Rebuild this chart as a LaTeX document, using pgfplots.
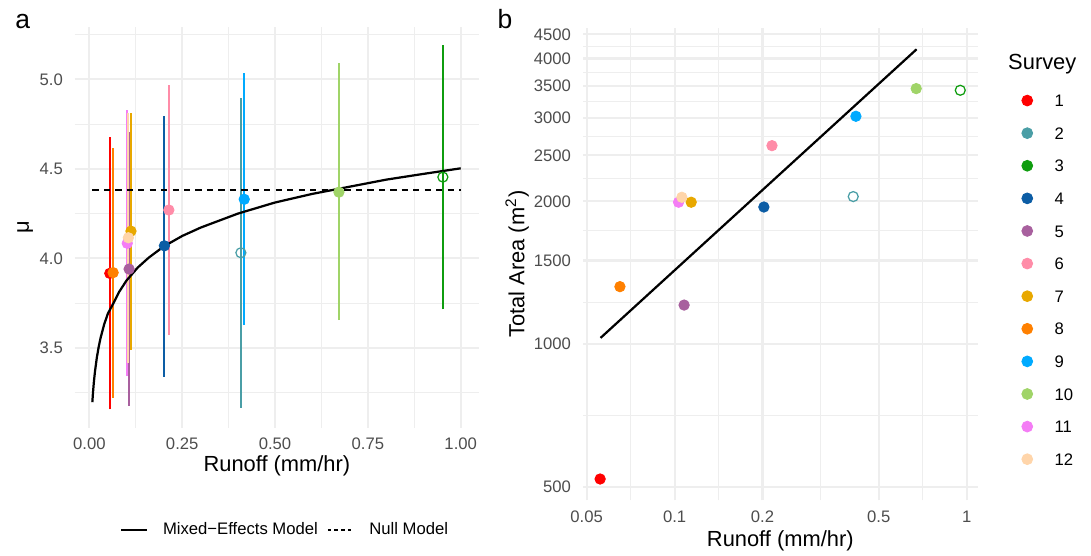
\documentclass[border=0pt]{standalone}
\usepackage{fontspec}
\setmainfont{Liberation Sans}
\usepackage{pgfplots}
\pgfplotsset{compat=1.18}

\definecolor{c1}{HTML}{FF0000}
\definecolor{c2}{HTML}{4A9EA6}
\definecolor{c3}{HTML}{0F9D0F}
\definecolor{c4}{HTML}{0C5DA5}
\definecolor{c5}{HTML}{A8609E}
\definecolor{c6}{HTML}{FF8CA8}
\definecolor{c7}{HTML}{E8A800}
\definecolor{c8}{HTML}{FF8000}
\definecolor{c9}{HTML}{00AAFF}
\definecolor{c10}{HTML}{A0D468}
\definecolor{c11}{HTML}{F47DF5}
\definecolor{c12}{HTML}{FFD5AA}
\definecolor{gridc}{HTML}{EEEEEE}
\definecolor{tickc}{HTML}{4D4D4D}

\pgfplotsset{
  ggstyle/.style={
    scale only axis,
    axis line style={draw=none},
    major tick length=0pt, minor tick length=0pt,
    tick style={draw=none},
    grid=both,
    major grid style={gridc, line width=1pt},
    minor grid style={gridc, line width=0.53pt},
    ticklabel style={font=\fontsize{8}{9.6}\selectfont, text=tickc, inner sep=0pt},
    xticklabel shift=4.95pt, yticklabel shift=5.5pt,
    /pgf/number format/assume math mode=true,
    label style={font=\fontsize{10.5}{12}\selectfont, inner sep=0pt},
    clip mode=individual,
  },
  bar/.style={line width=1pt, forget plot},
  pt/.style={only marks, mark=*, mark size=2.5pt, forget plot},
  opt/.style={only marks, mark=o, mark size=2.4pt, mark options={line width=0.6pt}, forget plot},
}

\begin{document}
\begin{tikzpicture}
\useasboundingbox (0,0) rectangle (523.68pt,266.88pt);

% ---------------- panel a ----------------
\begin{axis}[ggstyle,
  at={(35.86pt,61.63pt)}, anchor=south west,
  width=194.1pt, height=192.3pt,
  xmin=-0.0395, xmax=1.0495, ymin=3.054, ymax=5.293,
  xtick={0,0.25,0.5,0.75,1}, xticklabels={0.00,0.25,0.50,0.75,1.00},
  minor xtick={0.125,0.375,0.625,0.875},
  ytick={3.5,4,4.5,5}, yticklabels={3.5,4.0,4.5,5.0},
  minor ytick={3.25,3.75,4.25,4.75,5.25},
  xlabel={Runoff (mm/hr)}, ylabel={μ},
  xlabel style={at={(axis description cs:0.5,-0.068)}, anchor=north},
  ylabel style={at={(axis description cs:-0.102,0.5)}, anchor=south},
  legend columns=2,
  legend style={at={(axis description cs:0.5176,-0.2556)}, anchor=center,
    draw=none, fill=none, font=\fontsize{8}{9.6}\selectfont,
    nodes={inner sep=0pt},
    /tikz/every odd column/.append style={column sep=7pt},
    /tikz/every even column/.append style={column sep=4.3pt}},
  legend image code/.code={\draw[#1] (0pt,0pt) -- (12.5pt,0pt);},
]
% error bars
\addplot[c1, bar] coordinates {(0.055,3.156) (0.055,4.676)};
\addplot[c2, bar] coordinates {(0.408,3.165) (0.408,4.894)};
\addplot[c3, bar] coordinates {(0.952,3.715) (0.952,5.192)};
\addplot[c4, bar] coordinates {(0.202,3.339) (0.202,4.795)};
\addplot[c5, bar] coordinates {(0.107,3.175) (0.107,4.705)};
\addplot[c6, bar] coordinates {(0.214,3.571) (0.214,4.968)};
\addplot[c7, bar] coordinates {(0.112,3.488) (0.112,4.813)};
\addplot[c8, bar] coordinates {(0.064,3.221) (0.064,4.615)};
\addplot[c9, bar] coordinates {(0.417,3.627) (0.417,5.034)};
\addplot[c10, bar] coordinates {(0.672,3.655) (0.672,5.089)};
\addplot[c11, bar] coordinates {(0.102,3.342) (0.102,4.828)};
\addplot[c12, bar] coordinates {(0.105,3.415) (0.105,4.815)};
% model curves
\addplot[black, line width=1.07pt, forget plot] coordinates {
 (0.008,3.196) (0.009,3.228) (0.010,3.256) (0.012,3.306) (0.015,3.366)
 (0.020,3.444) (0.025,3.504) (0.030,3.554) (0.040,3.632) (0.050,3.692)
 (0.065,3.750) (0.080,3.812) (0.100,3.876) (0.130,3.948) (0.160,4.004)
 (0.200,4.066) (0.250,4.125) (0.300,4.172) (0.400,4.250) (0.500,4.312)
 (0.600,4.360) (0.700,4.400) (0.800,4.440) (0.900,4.472) (1.000,4.503)};
\addplot[black, line width=1.07pt, dash pattern=on 3pt off 2.5pt, forget plot]
 coordinates {(0.008,4.38) (1.0,4.38)};
% points
\addplot[c1, pt] coordinates {(0.055,3.916)};
\addplot[c2, opt] coordinates {(0.408,4.031)};
\addplot[c3, opt] coordinates {(0.952,4.454)};
\addplot[c4, pt] coordinates {(0.202,4.070)};
\addplot[c5, pt] coordinates {(0.107,3.940)};
\addplot[c6, pt] coordinates {(0.214,4.270)};
\addplot[c7, pt] coordinates {(0.112,4.152)};
\addplot[c8, pt] coordinates {(0.064,3.920)};
\addplot[c9, pt] coordinates {(0.417,4.330)};
\addplot[c10, pt] coordinates {(0.672,4.370)};
\addplot[c11, pt] coordinates {(0.102,4.084)};
\addplot[c12, pt] coordinates {(0.105,4.115)};
% legend
\addlegendimage{black, line width=1.2pt}
\addlegendentry{Mixed−Effects Model}
\addlegendimage{black, line width=0.9pt, dash pattern=on 1.7pt off 1.5pt}
\addlegendentry{Null Model}
\end{axis}

% ---------------- panel b ----------------
\begin{axis}[ggstyle,
  at={(279.74pt,26.64pt)}, anchor=south west,
  width=189.6pt, height=226.9pt,
  xmode=log, ymode=log,
  xmin=0.0485, xmax=1.092, ymin=467.6, ymax=4645,
  xtick={0.05,0.1,0.2,0.5,1}, xticklabels={0.05,0.1,0.2,0.5,1},
  minor xtick={0.0707,0.1414,0.3162,0.7071},
  ytick={500,1000,1500,2000,2500,3000,3500,4000,4500},
  yticklabels={500,1000,1500,2000,2500,3000,3500,4000,4500},
  minor ytick={707.1,1224.7,1732.1,2236.1,2738.6,3240.4,3741.7,4242.6},
  xlabel={Runoff (mm/hr)}, ylabel={Total Area (m\textsuperscript{2})},
  xlabel style={at={(axis description cs:0.5,-0.0624)}, anchor=north},
  ylabel style={at={(axis description cs:-0.1354,0.5)}, anchor=south},
  legend cell align=left,
  legend style={at={(axis description cs:1.0946,0.8685)}, anchor=north west,
    draw=none, fill=none, font=\fontsize{8}{9.6}\selectfont,
    nodes={inner sep=0pt, text height=5.8pt, text depth=0pt},
    row sep=9.85pt,
    /tikz/every odd column/.append style={column sep=10.5pt}},
  legend image code/.code={\draw[#1] plot coordinates {(0pt,0pt)};},
]
\addplot[black, line width=1.07pt, forget plot] coordinates {(0.0558,1030) (0.674,4184)};
\addplot[c1, pt] coordinates {(0.0556,519)};
\addplot[c2, opt] coordinates {(0.409,2046)};
\addplot[c3, opt] coordinates {(0.951,3429)};
\addplot[c4, pt] coordinates {(0.2022,1945)};
\addplot[c5, pt] coordinates {(0.1078,1208)};
\addplot[c6, pt] coordinates {(0.2155,2620)};
\addplot[c7, pt] coordinates {(0.114,1991)};
\addplot[c8, pt] coordinates {(0.0650,1321)};
\addplot[c9, pt] coordinates {(0.4177,3022)};
\addplot[c10, pt] coordinates {(0.672,3457)};
\addplot[c11, pt] coordinates {(0.1032,1991)};
\addplot[c12, pt] coordinates {(0.1059,2039)};
\addlegendimage{only marks, mark=*, mark size=2.6pt, c1}\addlegendentry{1}
\addlegendimage{only marks, mark=*, mark size=2.6pt, c2}\addlegendentry{2}
\addlegendimage{only marks, mark=*, mark size=2.6pt, c3}\addlegendentry{3}
\addlegendimage{only marks, mark=*, mark size=2.6pt, c4}\addlegendentry{4}
\addlegendimage{only marks, mark=*, mark size=2.6pt, c5}\addlegendentry{5}
\addlegendimage{only marks, mark=*, mark size=2.6pt, c6}\addlegendentry{6}
\addlegendimage{only marks, mark=*, mark size=2.6pt, c7}\addlegendentry{7}
\addlegendimage{only marks, mark=*, mark size=2.6pt, c8}\addlegendentry{8}
\addlegendimage{only marks, mark=*, mark size=2.6pt, c9}\addlegendentry{9}
\addlegendimage{only marks, mark=*, mark size=2.6pt, c10}\addlegendentry{10}
\addlegendimage{only marks, mark=*, mark size=2.6pt, c11}\addlegendentry{11}
\addlegendimage{only marks, mark=*, mark size=2.6pt, c12}\addlegendentry{12}
\node[anchor=west, inner sep=0pt, font=\fontsize{10.5}{12}\selectfont]
  at (axis description cs:1.076,0.9234) {Survey};
\end{axis}

\node[anchor=base west, inner sep=0pt, font=\fontsize{12.7}{15}\selectfont] at (7.2pt,253.3pt) {a};
\node[anchor=base west, inner sep=0pt, font=\fontsize{12.7}{15}\selectfont] at (238.6pt,253.3pt) {b};
\end{tikzpicture}
\end{document}
